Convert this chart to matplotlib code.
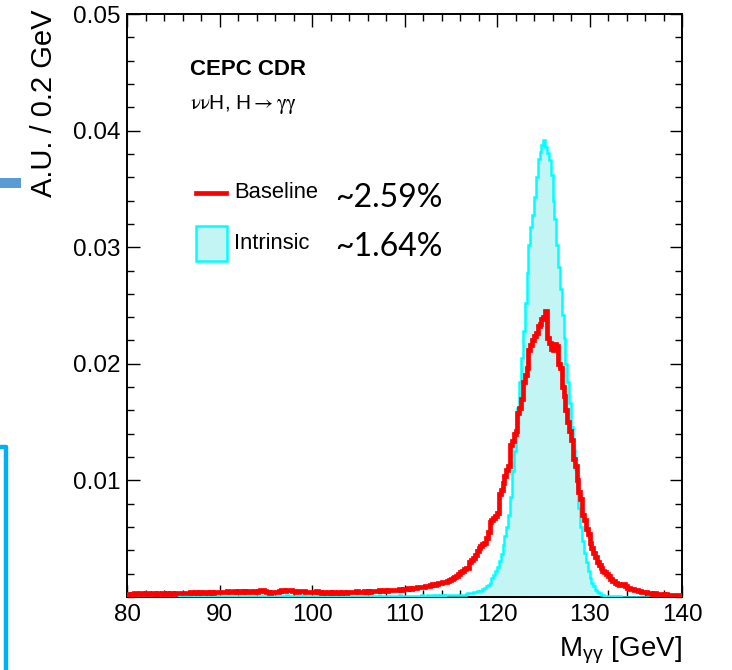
import numpy as np
import matplotlib
matplotlib.use('Agg')
import matplotlib.pyplot as plt
from matplotlib.patches import Rectangle
from matplotlib.lines import Line2D

plt.rcParams['font.family'] = ['Liberation Sans', 'DejaVu Sans']
plt.rcParams['mathtext.fontset'] = 'stix'

# 0.2 GeV bins, 80 - 140 GeV
bin_edges = np.linspace(80, 140, 301)

# Baseline (red), one row = 2 GeV
baseline = [
    0.00025, 0.00020, 0.00028, 0.00022, 0.00030, 0.00026, 0.00022, 0.00030, 0.00034, 0.00028,
    0.00030, 0.00034, 0.00028, 0.00025, 0.00030, 0.00026, 0.00032, 0.00028, 0.00024, 0.00030,
    0.00028, 0.00032, 0.00026, 0.00030, 0.00034, 0.00028, 0.00030, 0.00036, 0.00032, 0.00030,
    0.00034, 0.00038, 0.00032, 0.00036, 0.00040, 0.00034, 0.00038, 0.00042, 0.00036, 0.00040,
    0.00038, 0.00034, 0.00040, 0.00044, 0.00038, 0.00042, 0.00036, 0.00040, 0.00046, 0.00040,
    0.00044, 0.00040, 0.00046, 0.00042, 0.00048, 0.00044, 0.00040, 0.00046, 0.00050, 0.00044,
    0.00048, 0.00052, 0.00046, 0.00050, 0.00044, 0.00048, 0.00054, 0.00046, 0.00042, 0.00048,
    0.00044, 0.00050, 0.00056, 0.00060, 0.00052, 0.00046, 0.00040, 0.00036, 0.00040, 0.00044,
    0.00040, 0.00046, 0.00050, 0.00056, 0.00060, 0.00054, 0.00058, 0.00062, 0.00056, 0.00050,
    0.00052, 0.00046, 0.00042, 0.00048, 0.00054, 0.00050, 0.00044, 0.00040, 0.00046, 0.00042,
    0.00040, 0.00046, 0.00050, 0.00044, 0.00040, 0.00036, 0.00042, 0.00038, 0.00034, 0.00040,
    0.00036, 0.00040, 0.00034, 0.00038, 0.00042, 0.00036, 0.00040, 0.00044, 0.00038, 0.00042,
    0.00044, 0.00040, 0.00046, 0.00042, 0.00048, 0.00044, 0.00040, 0.00046, 0.00050, 0.00046,
    0.00048, 0.00044, 0.00050, 0.00054, 0.00048, 0.00052, 0.00056, 0.00050, 0.00054, 0.00058,
    0.00054, 0.00058, 0.00062, 0.00056, 0.00060, 0.00064, 0.00060, 0.00066, 0.00062, 0.00068,
    0.00066, 0.00070, 0.00074, 0.00070, 0.00076, 0.00080, 0.00076, 0.00082, 0.00086, 0.00082,
    0.00088, 0.00092, 0.00098, 0.00094, 0.00102, 0.00108, 0.00104, 0.00112, 0.00118, 0.00122,
    0.00126, 0.00132, 0.00128, 0.00138, 0.00146, 0.00150, 0.00160, 0.00170, 0.00178, 0.00196,
    0.00210, 0.00222, 0.00236, 0.00246, 0.00252, 0.00300, 0.00318, 0.00330, 0.00362, 0.00398,
    0.00420, 0.00440, 0.00458, 0.00462, 0.00510, 0.00560, 0.00640, 0.00660, 0.00680, 0.00692,
    0.0072, 0.0088, 0.0092, 0.0098, 0.0104, 0.0109, 0.0112, 0.0130, 0.0134, 0.0140,
    0.0142, 0.0158, 0.0162, 0.0170, 0.0184, 0.0190, 0.0196, 0.0212, 0.0216, 0.0220,
    0.0224, 0.0226, 0.0232, 0.0234, 0.0238, 0.0240, 0.0245, 0.0222, 0.0218, 0.0213,
    0.0212, 0.0217, 0.0215, 0.0200, 0.0196, 0.0180, 0.0172, 0.0160, 0.0150, 0.0142,
    0.0135, 0.0118, 0.0112, 0.0100, 0.0090, 0.0084, 0.0070, 0.0066, 0.0058, 0.0054,
    0.0046, 0.0042, 0.0038, 0.0034, 0.0030, 0.0027, 0.0025, 0.0022, 0.0021, 0.0020,
    0.0018, 0.0015, 0.0014, 0.0014, 0.0012, 0.0011, 0.00105, 0.0010, 0.0011, 0.0009,
    0.0008, 0.0008, 0.0007, 0.0007, 0.0006, 0.0006, 0.0005, 0.0005, 0.0004, 0.0004,
    0.0004, 0.00035, 0.00032, 0.00030, 0.00028, 0.00030, 0.00026, 0.00024, 0.00026, 0.00022,
    0.00020, 0.00022, 0.00018, 0.00020, 0.00016, 0.00018, 0.00015, 0.00014, 0.00016, 0.00012,
]

# Intrinsic (cyan), one row = 2 GeV
intrinsic = [
    0.00004, 0.00003, 0.00005, 0.00004, 0.00003, 0.00005, 0.00004, 0.00004, 0.00003, 0.00005,
    0.00004, 0.00005, 0.00004, 0.00003, 0.00005, 0.00004, 0.00005, 0.00004, 0.00006, 0.00004,
    0.00005, 0.00006, 0.00004, 0.00005, 0.00006, 0.00005, 0.00004, 0.00006, 0.00005, 0.00006,
    0.00006, 0.00005, 0.00007, 0.00006, 0.00005, 0.00007, 0.00006, 0.00008, 0.00006, 0.00007,
    0.00007, 0.00006, 0.00008, 0.00007, 0.00008, 0.00006, 0.00007, 0.00008, 0.00007, 0.00009,
    0.00008, 0.00009, 0.00007, 0.00008, 0.00010, 0.00008, 0.00009, 0.00010, 0.00008, 0.00009,
    0.00009, 0.00010, 0.00008, 0.00010, 0.00011, 0.00009, 0.00010, 0.00008, 0.00010, 0.00011,
    0.00010, 0.00009, 0.00011, 0.00010, 0.00012, 0.00010, 0.00009, 0.00011, 0.00010, 0.00012,
    0.00011, 0.00010, 0.00012, 0.00011, 0.00010, 0.00012, 0.00013, 0.00011, 0.00010, 0.00012,
    0.00011, 0.00012, 0.00010, 0.00012, 0.00011, 0.00013, 0.00011, 0.00012, 0.00010, 0.00011,
    0.00012, 0.00010, 0.00011, 0.00013, 0.00011, 0.00012, 0.00010, 0.00012, 0.00011, 0.00013,
    0.00011, 0.00012, 0.00010, 0.00011, 0.00013, 0.00012, 0.00010, 0.00011, 0.00012, 0.00010,
    0.00011, 0.00012, 0.00010, 0.00012, 0.00011, 0.00010, 0.00012, 0.00011, 0.00013, 0.00011,
    0.00010, 0.00012, 0.00011, 0.00010, 0.00012, 0.00011, 0.00013, 0.00011, 0.00010, 0.00012,
    0.00011, 0.00012, 0.00010, 0.00011, 0.00012, 0.00010, 0.00011, 0.00013, 0.00011, 0.00012,
    0.00011, 0.00010, 0.00012, 0.00011, 0.00012, 0.00010, 0.00011, 0.00012, 0.00011, 0.00013,
    0.00012, 0.00011, 0.00013, 0.00012, 0.00011, 0.00013, 0.00012, 0.00014, 0.00012, 0.00013,
    0.00013, 0.00012, 0.00014, 0.00013, 0.00015, 0.00014, 0.00013, 0.00015, 0.00014, 0.00016,
    0.00015, 0.00020, 0.00020, 0.00025, 0.00030, 0.00030, 0.00030, 0.00040, 0.00040, 0.00050,
    0.00050, 0.00050, 0.00070, 0.00080, 0.00090, 0.00100, 0.00120, 0.00160, 0.00190, 0.00220,
    0.0026, 0.0031, 0.0037, 0.0045, 0.0052, 0.0060, 0.0070, 0.0086, 0.0108, 0.0125,
    0.0142, 0.0162, 0.0184, 0.0205, 0.0228, 0.0252, 0.0278, 0.0302, 0.0317, 0.0328,
    0.0343, 0.0360, 0.0376, 0.0382, 0.0388, 0.0392, 0.0386, 0.0381, 0.0375, 0.0362,
    0.0340, 0.0324, 0.0302, 0.0283, 0.0264, 0.0242, 0.0222, 0.0200, 0.0184, 0.0166,
    0.0146, 0.0126, 0.0110, 0.0094, 0.0076, 0.0060, 0.0048, 0.0038, 0.0030, 0.0022,
    0.0016, 0.0012, 0.0009, 0.0006, 0.0004, 0.0003, 0.0002, 0.00015, 0.00010, 0.00008,
    0.00007, 0.00006, 0.00006, 0.00005, 0.00005, 0.00004, 0.00005, 0.00004, 0.00004, 0.00003,
    0.00004, 0.00003, 0.00004, 0.00003, 0.00003, 0.00004, 0.00003, 0.00003, 0.00002, 0.00003,
    0.00003, 0.00002, 0.00003, 0.00002, 0.00002, 0.00003, 0.00002, 0.00002, 0.00002, 0.00002,
    0.00002, 0.00002, 0.00001, 0.00002, 0.00002, 0.00001, 0.00002, 0.00001, 0.00001, 0.00001,
]

x_ticks = [80, 90, 100, 110, 120, 130, 140]
y_ticks = [0.01, 0.02, 0.03, 0.04, 0.05]
y_tick_labels = ['0.01', '0.02', '0.03', '0.04', '0.05']
legend_labels = ['Baseline', 'Intrinsic']
resolutions = ['~2.59%', '~1.64%']

fig = plt.figure(figsize=(7.32, 6.70), dpi=100)
ax = fig.add_axes([0.1735, 0.109, 0.7582, 0.8701])

# intrinsic: filled cyan histogram, red baseline on top
ax.stairs(intrinsic, bin_edges, fill=True, facecolor='#c4f5f5', edgecolor='none', zorder=2)
ax.stairs(intrinsic, bin_edges, color='#00ffff', linewidth=1.8, zorder=3)
ax.stairs(baseline, bin_edges, color='#ff0000', linewidth=3.4, zorder=4)

ax.set_xlim(80, 140)
ax.set_ylim(0, 0.05)
ax.set_xticks(x_ticks)
ax.set_xticks(np.arange(80, 141, 2), minor=True)
ax.set_yticks(y_ticks)
ax.set_yticklabels(y_tick_labels)
ax.set_yticks(np.arange(0, 0.0501, 0.002), minor=True)
ax.tick_params(which='both', direction='in', top=True, right=True, width=1.0)
ax.tick_params(which='major', length=9, labelsize=17.5)
ax.tick_params(axis='x', which='major', pad=5)
ax.tick_params(axis='y', which='major', pad=5)
ax.tick_params(which='minor', length=5)
for s in ax.spines.values():
    s.set_linewidth(1.4)

ax.set_ylabel('A.U. / 0.2 GeV', fontsize=21, loc='top')
ax.yaxis.set_label_coords(-0.124, 1.007)
ax.set_xlabel(r'M$_{\mathregular{γγ}}$ [GeV]', fontsize=20, loc='right')
ax.xaxis.set_label_coords(1.0, -0.065)

ax.text(0.1135, 0.8954, 'CEPC CDR', transform=ax.transAxes, fontsize=16,
        fontweight='bold', va='baseline')
ax.text(0.1135, 0.837, r'$\mathrm{\nu\nu}$H, H$\rightarrow\mathrm{\gamma\gamma}$',
        transform=ax.transAxes, fontsize=15, va='baseline')

# hand-made legend
ax.add_line(Line2D([0.1243, 0.1784], [0.693, 0.693], transform=ax.transAxes,
                   color='#ff0000', linewidth=3.4))
ax.add_patch(Rectangle((0.1243, 0.5763), 0.0559, 0.060, transform=ax.transAxes,
                       facecolor='#c4f5f5', edgecolor='#00ffff', linewidth=1.8))
ax.text(0.1928, 0.693, legend_labels[0], transform=ax.transAxes, fontsize=15.8, va='center')
ax.text(0.1928, 0.6063, legend_labels[1], transform=ax.transAxes, fontsize=15.8, va='center')
ax.text(0.3748, 0.6844, resolutions[0], transform=ax.transAxes, fontsize=23,
        family=['Lato', 'DejaVu Sans'], va='center')
ax.text(0.3748, 0.5995, resolutions[1], transform=ax.transAxes, fontsize=23,
        family=['Lato', 'DejaVu Sans'], va='center')

# slide leftovers on the left edge
fig.add_artist(Rectangle((0, 1 - 188 / 670), 21 / 732, 10 / 670, transform=fig.transFigure,
                         facecolor='#5b9bd5', edgecolor='none'))
fig.add_artist(Line2D([0, 6 / 732, 6 / 732], [1 - 447 / 670, 1 - 447 / 670, 0],
                      transform=fig.transFigure, color='#00b0f0', linewidth=3.2))

fig.savefig('out.png', dpi=100, facecolor='white')
